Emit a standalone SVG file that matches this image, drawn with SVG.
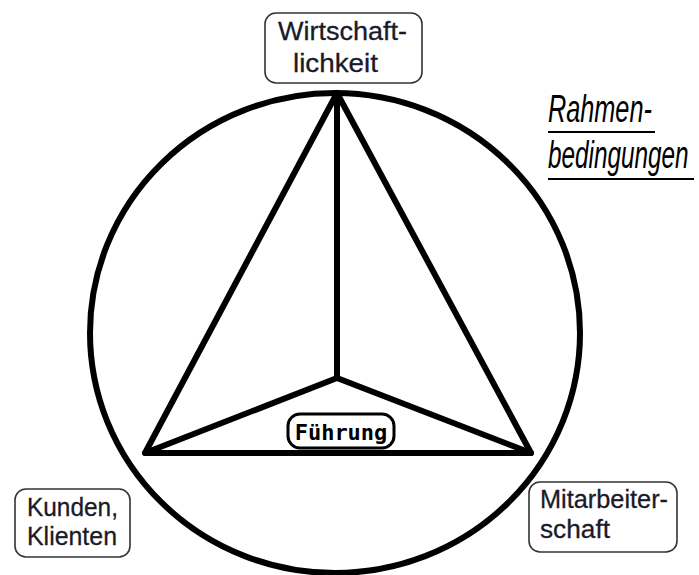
<svg xmlns="http://www.w3.org/2000/svg" width="699" height="575" viewBox="0 0 699 575">
<style>
.ln{stroke:#000;stroke-width:6;fill:none;stroke-linecap:round;stroke-linejoin:round}
.box{fill:#fff;stroke:#333;stroke-width:1.6}
.lbl{font-family:"Liberation Sans",Arial,sans-serif;font-size:26px;fill:#1a1a28;stroke:#1a1a28;stroke-width:0.3}
.rb{font-family:"Liberation Sans",Arial,sans-serif;font-style:italic;font-size:38px;fill:#000}
.fu{font-family:"DejaVu Sans Mono","Liberation Mono",monospace;font-weight:bold;font-size:22px;fill:#000}
</style>
<rect width="699" height="575" fill="#fff"/>
<g id="connectors">
<ellipse class="ln" cx="335" cy="333" rx="245" ry="240" stroke-width="5"/>
<polygon class="ln" points="337,93 145,453 531,453"/>
<line class="ln" x1="337" y1="93" x2="337" y2="378"/>
<line class="ln" x1="337" y1="378" x2="145" y2="453"/>
<line class="ln" x1="337" y1="378" x2="531" y2="453"/>
</g>
<g id="wirtschaftlichkeit">
<rect class="box" x="265" y="13" width="157" height="70" rx="11"/>
<text class="lbl" x="278" y="40" textLength="129" lengthAdjust="spacingAndGlyphs">Wirtschaft-</text>
<text class="lbl" x="293" y="72" textLength="85" lengthAdjust="spacingAndGlyphs">lichkeit</text>
</g>
<g id="kunden">
<rect class="box" x="15" y="489" width="115" height="68" rx="11"/>
<text class="lbl" x="27" y="516" textLength="91" lengthAdjust="spacingAndGlyphs">Kunden,</text>
<text class="lbl" x="27" y="545" textLength="90" lengthAdjust="spacingAndGlyphs">Klienten</text>
</g>
<g id="mitarbeiterschaft">
<rect class="box" x="529" y="482" width="148" height="70" rx="11"/>
<text class="lbl" x="540" y="508" textLength="128" lengthAdjust="spacingAndGlyphs">Mitarbeiter-</text>
<text class="lbl" x="540" y="538" textLength="70" lengthAdjust="spacingAndGlyphs">schaft</text>
</g>
<g id="fuehrung">
<rect x="288" y="414" width="106" height="34" rx="12" fill="#fff" stroke="#000" stroke-width="3"/>
<text class="fu" x="341" y="440" text-anchor="middle">Führung</text>
</g>
<g id="rahmenbedingungen">
<text class="rb" transform="translate(548,122) scale(0.665,1)">Rahmen-</text>
<line x1="548" y1="132" x2="655" y2="132" stroke="#000" stroke-width="2"/>
<text class="rb" transform="translate(548,168) scale(0.64,1)">bedingungen</text>
<line x1="548" y1="179" x2="694" y2="179" stroke="#000" stroke-width="2"/>
</g>
</svg>
